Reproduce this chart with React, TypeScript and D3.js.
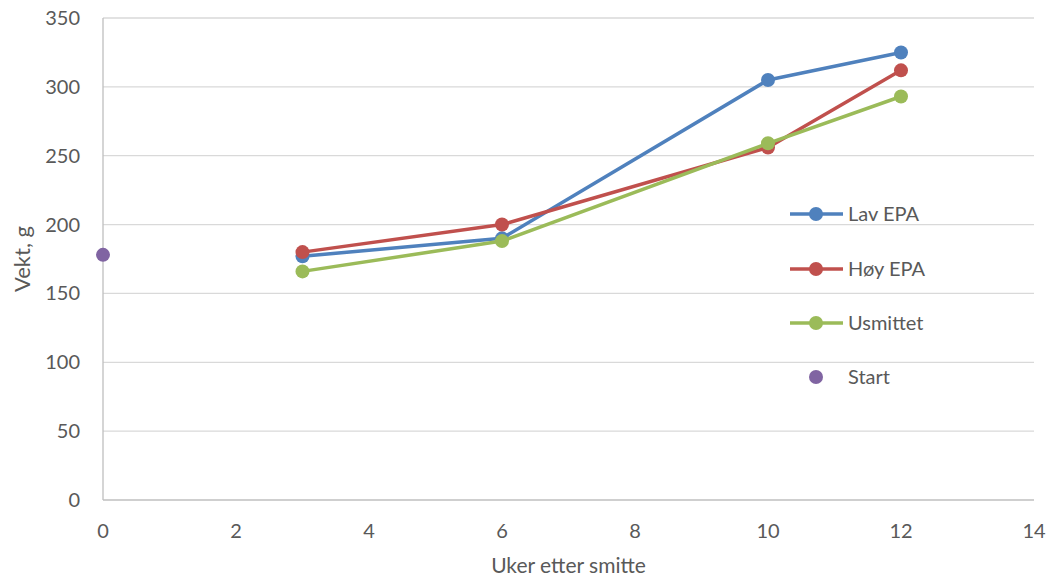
import React from "react";
import * as d3 from "d3";

const weeks = [3, 6, 10, 12];
const lavEPA = [177, 190, 305, 325];
const hoyEPA = [180, 200, 256, 312];
const usmittet = [166, 188, 259, 293];
const startWeek = [0];
const startValue = [178];
const xTicks = [0, 2, 4, 6, 8, 10, 12, 14];
const yTicks = [0, 50, 100, 150, 200, 250, 300, 350];
const seriesNames = ["Lav EPA", "Høy EPA", "Usmittet", "Start"];

const W = 1051, H = 581;
const left = 103, right = 1034, top = 18, bottom = 500;
const font = "Lato, 'Open Sans', sans-serif";
const textColor = "#595959";

export default function App() {
  const x = d3.scaleLinear().domain([0, 14]).range([left, right]);
  const y = d3.scaleLinear().domain([0, 350]).range([bottom, top]);
  const line = d3.line<[number, number]>().x(d => x(d[0])).y(d => y(d[1]));
  const series = [
    { name: seriesNames[0], vals: lavEPA, color: "#4f81bd" },
    { name: seriesNames[1], vals: hoyEPA, color: "#c0504d" },
    { name: seriesNames[2], vals: usmittet, color: "#9bbb59" },
  ];
  const legendY = [214, 269, 323, 377];
  return (
    <svg width={W} height={H} style={{ position: "absolute", left: 0, top: 0, background: "#fff" }}>
      {yTicks.map(t => (
        <g key={t}>
          {t > 0 && <line x1={left} x2={right} y1={y(t)} y2={y(t)} stroke="#d9d9d9" strokeWidth={1.3} />}
          <text x={80} y={y(t)} dy="0.35em" textAnchor="end" fontFamily={font} fontSize={20} fill={textColor}>{t}</text>
        </g>
      ))}
      <line x1={left} x2={left} y1={top} y2={bottom} stroke="#bfbfbf" strokeWidth={1.3} />
      <line x1={left} x2={right} y1={bottom} y2={bottom} stroke="#bfbfbf" strokeWidth={1.3} />
      {xTicks.map(t => (
        <text key={t} x={x(t)} y={531} dy="0.35em" textAnchor="middle" fontFamily={font} fontSize={20} fill={textColor}>{t}</text>
      ))}
      <text x={(left + right) / 2} y={566} dy="0.35em" textAnchor="middle" fontFamily={font} fontSize={21} fill={textColor}>Uker etter smitte</text>
      <text transform={`translate(22,${(top + bottom) / 2}) rotate(-90)`} dy="0.35em" textAnchor="middle" fontFamily={font} fontSize={22} fill={textColor}>Vekt, g</text>
      {series.map(s => {
        const pts = weeks.map((w, i) => [w, s.vals[i]] as [number, number]);
        return (
          <g key={s.name}>
            <path d={line(pts) || ""} fill="none" stroke={s.color} strokeWidth={3.5} strokeLinejoin="round" />
            {pts.map((p, i) => <circle key={i} cx={x(p[0])} cy={y(p[1])} r={7} fill={s.color} />)}
          </g>
        );
      })}
      {startWeek.map((w, i) => <circle key={i} cx={x(w)} cy={y(startValue[i])} r={7} fill="#8064a2" />)}
      {series.map((s, i) => (
        <g key={s.name}>
          <line x1={790} x2={843} y1={legendY[i]} y2={legendY[i]} stroke={s.color} strokeWidth={3.5} />
          <circle cx={816} cy={legendY[i]} r={7} fill={s.color} />
          <text x={848} y={legendY[i]} dy="0.35em" fontFamily={font} fontSize={20} fill={textColor}>{s.name}</text>
        </g>
      ))}
      <circle cx={816} cy={legendY[3]} r={7} fill="#8064a2" />
      <text x={848} y={legendY[3]} dy="0.35em" fontFamily={font} fontSize={20} fill={textColor}>{seriesNames[3]}</text>
    </svg>
  );
}
